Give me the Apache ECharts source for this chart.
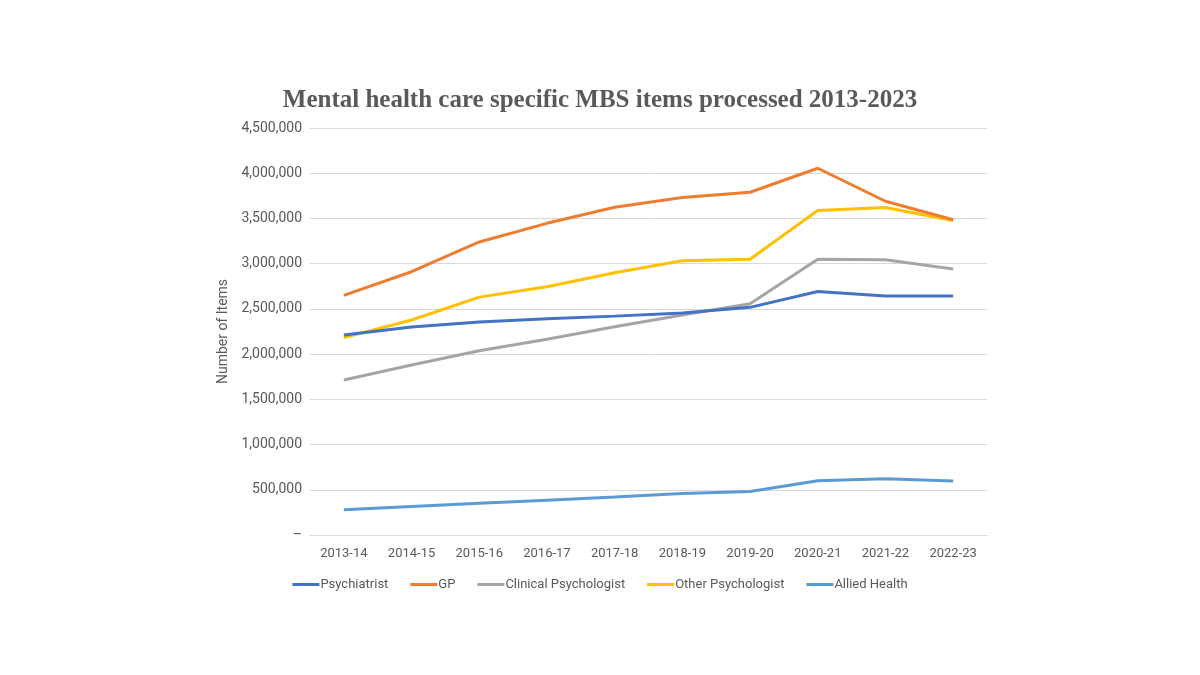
<!DOCTYPE html>
<html>
<head>
<meta charset="utf-8">
<script src="https://cdn.jsdelivr.net/npm/echarts@6/dist/echarts.min.js"></script>
<style>
  html, body { margin: 0; padding: 0; background: #fff; }
  #main { width: 1200px; height: 675px; }
</style>
</head>
<body>
<div id="main"></div>
<script>
// financial years on the x axis
var years = ["2013-14", "2014-15", "2015-16", "2016-17", "2017-18",
  "2018-19", "2019-20", "2020-21", "2021-22", "2022-23"];

// items processed
var psychiatrist = [2211000, 2300000, 2355000, 2390000, 2420000, 2455000, 2517000, 2692000, 2643000, 2643000];
var gp = [2650000, 2911000, 3240000, 3446000, 3623000, 3732000, 3790000, 4055000, 3690000, 3485000];
var clinicalPsych = [1714000, 1880000, 2038000, 2164000, 2303000, 2432000, 2557000, 3048000, 3044000, 2941000];
var otherPsych = [2182000, 2377000, 2630000, 2745000, 2900000, 3033000, 3048000, 3588000, 3620000, 3477000];
var alliedHealth = [278000, 315000, 350000, 385000, 420000, 460000, 481000, 600000, 622000, 597000];

var seriesNames = ["Psychiatrist", "GP", "Clinical Psychologist", "Other Psychologist", "Allied Health"];
var seriesColors = ["#4472C4", "#ED7D31", "#A5A5A5", "#FFC000", "#5B9BD5"];
var seriesData = [psychiatrist, gp, clinicalPsych, otherPsych, alliedHealth];

var myChart = echarts.init(document.getElementById("main"));

var series = seriesNames.map(function (name, i) {
  return {
    name: name,
    type: "line",
    data: seriesData[i],
    symbol: "none",
    color: seriesColors[i],
    lineStyle: { width: 3, color: seriesColors[i] },
    z: 10 - i
  };
});

var option = {
  backgroundColor: "#fff",
  animation: false,
  title: {
    text: "Mental health care specific MBS items processed 2013-2023",
    left: "center",
    top: 83,
    textStyle: {
      fontFamily: "Liberation Serif",
      fontSize: 25,
      fontWeight: "bold",
      color: "#595959"
    }
  },
  grid: { left: 310, right: 213, top: 128, bottom: 140 },
  legend: {
    data: seriesNames,
    bottom: 79,
    left: "center",
    icon: "rect",
    itemWidth: 27,
    itemHeight: 3,
    itemGap: 22,
    textStyle: { fontFamily: "Roboto", fontSize: 13, color: "#595959", padding: [0, 0, 0, -4] }
  },
  xAxis: {
    type: "category",
    data: years,
    boundaryGap: true,
    axisTick: { show: false },
    axisLine: { lineStyle: { color: "#d9d9d9", width: 1 } },
    axisLabel: { fontFamily: "Roboto", fontSize: 13, color: "#595959", margin: 12 }
  },
  yAxis: {
    type: "value",
    min: 0,
    max: 4500000,
    interval: 500000,
    name: "Number of Items",
    nameLocation: "middle",
    nameGap: 76,
    nameTextStyle: { fontFamily: "Roboto", fontSize: 14, color: "#595959" },
    axisLine: { show: false },
    axisTick: { show: false },
    splitLine: { lineStyle: { color: "#d9d9d9", width: 1 } },
    axisLabel: {
      fontFamily: "Roboto",
      fontSize: 14,
      color: "#595959",
      margin: 8,
      formatter: function (v) {
        if (v === 0) return "–";
        return v.toLocaleString("en-US");
      }
    }
  },
  series: series
};

myChart.setOption(option);
</script>
</body>
</html>
